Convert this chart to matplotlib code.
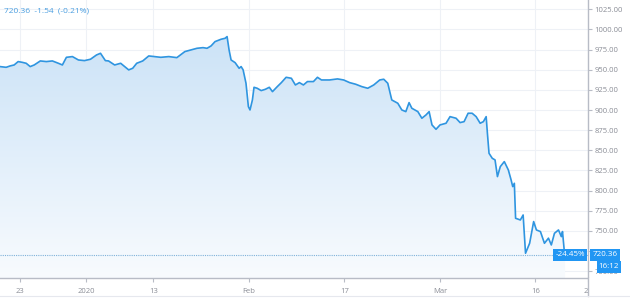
import numpy as np
import matplotlib.pyplot as plt
from matplotlib.lines import Line2D
from matplotlib.patches import Rectangle
from matplotlib.colors import LinearSegmentedColormap

# ── data: session index (0 = Dec 23) and price ──
session = [-2.05, -1.41, -0.99, -0.57, -0.15, 0.27, 0.69, 1.11, 1.53, 2.17,
           2.80, 3.43, 4.06, 4.48, 4.90, 5.53, 6.16, 6.79, 7.42, 8.05,
           8.47, 8.98, 9.31, 9.95, 10.58, 11.00, 11.42, 11.84, 12.26, 12.89,
           13.52, 14.15, 14.78, 15.62, 16.46, 17.30, 17.93, 18.57, 19.20, 19.62,
           20.04, 20.46, 21.09, 21.51, 21.72, 21.93, 22.14, 22.56, 22.98, 23.19,
           23.40, 23.70, 23.95, 24.12, 24.37, 24.54, 24.87, 25.29, 25.72, 26.14,
           26.47, 26.98, 27.40, 27.90, 28.45, 28.87, 29.29, 29.71, 30.13, 30.76,
           31.18, 31.60, 32.44, 33.28, 33.92, 34.55, 35.18, 35.81, 36.44, 37.07,
           37.70, 38.12, 38.54, 38.96, 39.59, 40.01, 40.43, 40.77, 41.06, 41.69,
           42.11, 42.54, 42.87, 43.17, 43.59, 44.01, 44.64, 45.06, 45.69, 46.11,
           46.53, 46.95, 47.37, 47.79, 48.21, 48.55, 48.84, 48.97, 49.14, 49.48,
           49.77, 50.02, 50.32, 50.74, 51.16, 51.45, 51.62, 51.79, 51.92, 52.42,
           52.71, 52.96, 53.39, 53.81, 54.10, 54.52, 54.94, 55.36, 55.66, 55.99,
           56.41, 56.71, 56.83, 57.04, 57.10]
price = [953.9, 953.0, 954.7, 955.9, 960.1, 959.2, 958.0, 953.9, 955.9, 960.9,
         960.1, 960.9, 958.0, 955.9, 965.4, 966.3, 962.1, 961.3, 963.0, 968.3,
         970.4, 961.3, 960.9, 955.9, 958.0, 953.9, 949.8, 951.8, 958.0, 960.9,
         967.1, 966.3, 965.4, 966.3, 965.0, 972.5, 974.5, 976.6, 977.4, 976.6,
         979.5, 984.9, 987.8, 989.0, 991.1, 974.5, 962.1, 958.8, 951.8, 953.9,
         949.8, 933.2, 904.2, 900.1, 912.5, 928.2, 927.0, 924.1, 925.7, 928.2,
         922.8, 929.1, 934.0, 940.6, 939.4, 931.1, 934.0, 931.1, 935.3, 935.3,
         940.6, 937.3, 937.3, 938.6, 937.3, 934.0, 932.0, 929.1, 927.0, 931.1,
         937.3, 938.2, 933.2, 912.5, 908.4, 900.1, 898.0, 909.2, 902.2, 898.0,
         889.8, 893.9, 898.0, 881.5, 876.1, 881.5, 883.6, 891.8, 889.8, 884.4,
         885.6, 896.0, 896.0, 891.8, 883.6, 885.6, 891.8, 871.2, 846.3, 840.1,
         838.1, 817.4, 829.8, 836.0, 825.7, 813.3, 805.0, 809.1, 765.7, 763.6,
         769.8, 722.3, 734.7, 761.6, 751.2, 749.2, 734.7, 741.0, 732.6, 747.1,
         751.2, 742.9, 749.2, 722.3, 720.36]

tick_sessions = [0, 7, 14, 24, 34, 44, 54, 59.5]
tick_labels = ['23', '2020', '13', 'Feb', '17', 'Mar', '16', '23']
price_ticks = [700, 725, 750, 775, 800, 825, 850, 875, 900, 925, 950, 975, 1000, 1025]
hidden_ticks = [725]            # covered by the last-price tag

last_price = 720.36
change = -1.54
change_pct = -0.21
total_pct = -24.45
clock = '16:12'

LINE = '#2f95e0'
GRID = '#eef1f6'
AXIS = '#b8bcc6'
TXT = '#8a8d96'
BOX = '#2196f3'

W, H = 630, 304
fig = plt.figure(figsize=(W / 100, H / 100), dpi=100)
fig.patch.set_facecolor('white')
ax = fig.add_axes([0, (H - 278) / H, 588 / W, 278 / H])

x = np.array(session)
y = np.array(price)
ymin, ymax = 691.6, 1036.5
xmin, xmax = -2.05, 59.5

# gradient fill under the line
cmap = LinearSegmentedColormap.from_list('fade', ['#f8fbfe', '#cce3f7'])
grad = np.linspace(0, 1, 256).reshape(-1, 1)
im = ax.imshow(grad, cmap=cmap, aspect='auto', origin='lower',
               extent=[xmin, xmax, ymin, y.max()], zorder=1)
poly = ax.fill_between(x, y, ymin, color='none', lw=0)
im.set_clip_path(poly.get_paths()[0], transform=ax.transData)

ax.plot(x, y, color=LINE, lw=1.2, zorder=3, solid_joinstyle='round')
ax.axhline(last_price, color='#7fb2d9', lw=0.8, ls=(0, (1, 1)), zorder=2)

ax.set_xlim(xmin, xmax)
ax.set_ylim(ymin, ymax)
ax.set_xticks(tick_sessions)
ax.set_xticklabels(tick_labels)
ax.set_yticks(price_ticks)
ax.set_yticklabels(['' if v in hidden_ticks else f'{v:.2f}' for v in price_ticks])
ax.yaxis.tick_right()
ax.grid(True, color=GRID, lw=0.8, zorder=0)
ax.set_axisbelow(True)

for s in ['top', 'left']:
    ax.spines[s].set_visible(False)
for s in ['bottom', 'right']:
    ax.spines[s].set_color(AXIS)
    ax.spines[s].set_linewidth(1.0)

ax.tick_params(axis='x', colors=AXIS, length=3, width=0.8, labelsize=5.5,
               labelcolor=TXT, pad=4)
ax.tick_params(axis='y', colors=AXIS, length=3, width=0.8, labelsize=5.5,
               labelcolor=TXT, pad=1.5)
for lbl in ax.get_xticklabels() + ax.get_yticklabels():
    lbl.set_fontfamily('Open Sans')

# price scale panel hides the right half of the last date label
fig.add_artist(Rectangle((588.5 / W, 9 / H), (W - 588.5) / W, 17 / H,
                         fc='white', ec='none', zorder=3))
fig.add_artist(Line2D([588 / W, 588 / W], [8 / H, 26 / H], color=AXIS,
                      lw=1.0, zorder=4))
fig.add_artist(Line2D([0, 1], [8 / H, 8 / H], color='#e6e8ee', lw=0.8, zorder=4))

# header
fig.text(4 / W, 1 - 11 / H,
         f'{last_price:.2f}  {change:.2f}  ({change_pct:.2f}%)',
         color='#4a9ee0', fontsize=6, family='Open Sans', va='center', ha='left')

# last price tags
yl = 1 - 255 / H
fig.text(585 / W, yl, f'{total_pct:.2f}%', color='white', fontsize=5.8,
         family='Open Sans', ha='right', va='center', zorder=10,
         bbox=dict(boxstyle='square,pad=0.25', fc=BOX, ec='none'))
fig.text(605 / W, yl, f'{last_price:.2f}', color='white', fontsize=5.8,
         family='Open Sans', ha='center', va='center', zorder=10,
         bbox=dict(boxstyle='square,pad=0.3', fc=BOX, ec='none'))
fig.text(609 / W, 1 - 267 / H, clock, color='white', fontsize=5.8,
         family='Open Sans', ha='center', va='center', zorder=10,
         bbox=dict(boxstyle='square,pad=0.25', fc=BOX, ec='none'))

fig.savefig('out.png', dpi=100)
